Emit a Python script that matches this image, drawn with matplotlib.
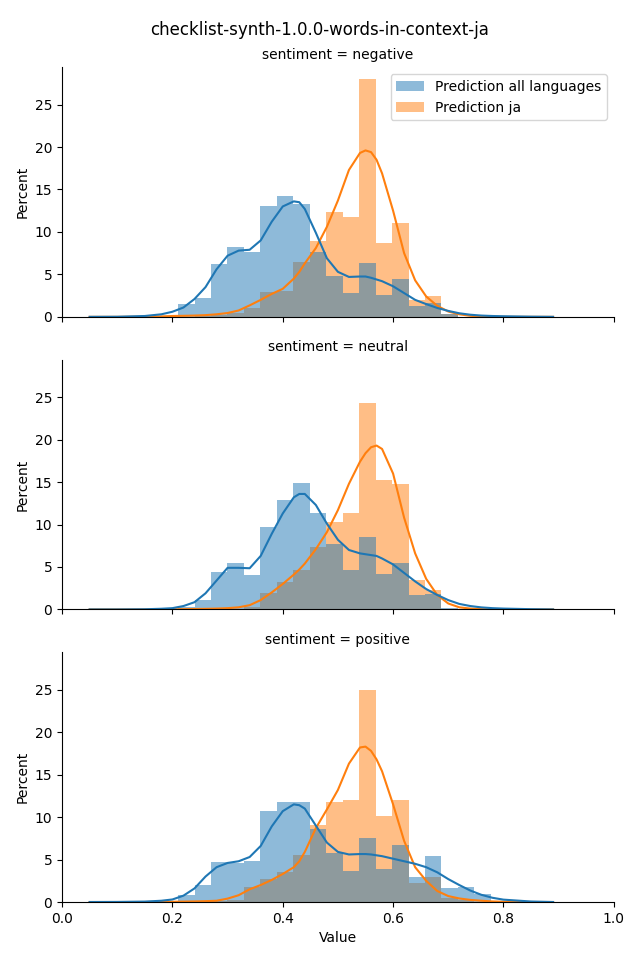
import numpy as np
import matplotlib
matplotlib.use("Agg")
import matplotlib.pyplot as plt
import matplotlib.patches as mpatches

title = "checklist-synth-1.0.0-words-in-context-ja"
panels = ["negative", "neutral", "positive"]
series_labels = ["Prediction all languages", "Prediction ja"]

# histogram bins (common to all panels)
bin_start = 0.2103
bin_width = 0.02984
n_bins = 19

# bar heights in percent, one list per panel and series
hist_all = {
    "negative": [1.5, 2.2, 6.2, 8.2, 7.6, 13.0, 14.2, 13.25, 7.6, 4.8, 2.8, 6.4, 2.55, 4.4, 1.33, 1.6, 0.3, 0.0, 0.0],
    "neutral": [0.3, 1.15, 4.35, 5.5, 4.1, 9.76, 12.9, 14.9, 11.3, 7.76, 4.6, 8.5, 4.2, 5.5, 1.7, 1.76, 0.2, 0.0, 0.0],
    "positive": [0.82, 2.0, 4.7, 4.55, 4.8, 10.7, 11.76, 11.76, 8.6, 5.8, 3.65, 7.5, 3.9, 6.7, 2.94, 5.4, 1.7, 1.8, 0.94],
}
hist_ja = {
    "negative": [0.0, 0.1, 0.2, 0.4, 1.0, 2.94, 3.06, 6.45, 8.9, 12.4, 11.7, 28.0, 8.7, 11.1, 2.0, 2.45, 0.3, 0.0, 0.0],
    "neutral": [0.0, 0.0, 0.1, 0.1, 0.25, 1.9, 3.2, 4.7, 7.3, 10.35, 11.3, 24.35, 15.2, 14.8, 3.45, 2.27, 0.1, 0.0, 0.0],
    "positive": [0.0, 0.0, 0.1, 0.25, 1.76, 2.75, 3.5, 5.5, 9.06, 11.76, 12.0, 25.0, 10.1, 12.0, 2.27, 2.94, 0.5, 0.2, 0.0],
}

# density curves (scaled to percent)
kde_x = [0.05, 0.10, 0.15, 0.18, 0.20, 0.22, 0.24, 0.26, 0.28, 0.30, 0.32, 0.34, 0.36, 0.38,
         0.40, 0.42, 0.43, 0.44, 0.46, 0.48, 0.50, 0.52, 0.54, 0.55, 0.56, 0.57, 0.58, 0.60,
         0.62, 0.64, 0.66, 0.68, 0.70, 0.72, 0.74, 0.76, 0.78, 0.80, 0.85, 0.89]
kde_all = {
    "negative": [0.0, 0.01, 0.1, 0.3, 0.6, 1.1, 2.1, 3.5, 5.6, 7.2, 7.8, 7.9, 9.0, 11.2,
                 13.0, 13.6, 13.5, 12.7, 9.9, 6.9, 5.3, 4.7, 4.75, 4.75, 4.6, 4.4, 4.2, 3.6,
                 2.8, 2.0, 1.5, 1.05, 0.7, 0.42, 0.25, 0.15, 0.1, 0.07, 0.02, 0.0],
    "neutral": [0.0, 0.0, 0.02, 0.08, 0.15, 0.4, 0.85, 1.9, 3.4, 4.9, 4.9, 4.85, 6.3, 8.9,
                11.3, 13.2, 13.6, 13.6, 12.3, 10.1, 8.2, 7.0, 6.6, 6.5, 6.4, 6.3, 6.0, 5.3,
                4.3, 3.3, 2.4, 1.7, 1.1, 0.65, 0.4, 0.24, 0.15, 0.1, 0.03, 0.0],
    "positive": [0.0, 0.01, 0.05, 0.15, 0.3, 0.75, 1.6, 3.0, 4.1, 4.6, 4.8, 5.3, 6.6, 8.9,
                 10.7, 11.5, 11.4, 11.0, 9.0, 7.0, 5.9, 5.6, 5.65, 5.65, 5.6, 5.5, 5.4, 5.1,
                 4.8, 4.5, 4.1, 3.5, 2.7, 2.0, 1.35, 0.85, 0.5, 0.28, 0.06, 0.0],
}
kde_ja = {
    "negative": [0.0, 0.0, 0.02, 0.05, 0.1, 0.12, 0.15, 0.2, 0.3, 0.45, 0.75, 1.35, 2.0, 2.7,
                 3.3, 4.5, 5.3, 6.3, 8.1, 10.6, 13.7, 17.3, 19.3, 19.6, 19.4, 18.5, 16.9, 12.5,
                 7.5, 4.3, 2.4, 1.3, 0.63, 0.3, 0.12, 0.05, 0.02, 0.0, 0.0, 0.0],
    "neutral": [0.0, 0.0, 0.0, 0.01, 0.02, 0.03, 0.05, 0.07, 0.1, 0.15, 0.25, 0.5, 1.1, 2.0,
                3.0, 4.1, 4.7, 5.4, 7.1, 9.1, 11.7, 14.8, 17.4, 18.4, 19.1, 19.3, 18.9, 16.0,
                10.8, 6.6, 3.6, 1.7, 0.7, 0.25, 0.1, 0.04, 0.01, 0.0, 0.0, 0.0],
    "positive": [0.0, 0.0, 0.0, 0.02, 0.03, 0.05, 0.07, 0.1, 0.15, 0.4, 0.8, 1.5, 2.0, 2.6,
                 3.3, 4.1, 4.8, 5.9, 8.7, 10.9, 13.2, 16.3, 18.2, 18.3, 17.8, 16.8, 15.4, 11.5,
                 7.2, 4.1, 2.5, 1.3, 0.7, 0.42, 0.25, 0.15, 0.07, 0.03, 0.0, 0.0],
}

c_all = "#1f77b4"
c_ja = "#ff7f0e"

bin_left = bin_start + bin_width * np.arange(n_bins)

fig, axes = plt.subplots(3, 1, figsize=(6.4, 9.6), sharex=True, sharey=True)
fig.subplots_adjust(left=0.097, right=0.959, bottom=0.0604, top=0.930, hspace=0.172)

for ax, name in zip(axes, panels):
    # ja first so the all-languages layer sits on top
    ax.bar(bin_left, hist_ja[name], width=bin_width, align="edge",
           color=c_ja, alpha=0.5, linewidth=0)
    ax.bar(bin_left, hist_all[name], width=bin_width, align="edge",
           color=c_all, alpha=0.5, linewidth=0)
    ax.plot(kde_x, kde_ja[name], color=c_ja, linewidth=1.5)
    ax.plot(kde_x, kde_all[name], color=c_all, linewidth=1.5)

    ax.set_title(f"sentiment = {name}", fontsize=10)
    ax.set_ylabel("Percent")
    ax.spines["top"].set_visible(False)
    ax.spines["right"].set_visible(False)
    ax.set_xlim(0, 1)

axes[-1].set_xlabel("Value")

handles = [mpatches.Patch(color=c_all, alpha=0.5, linewidth=0),
           mpatches.Patch(color=c_ja, alpha=0.5, linewidth=0)]
axes[0].legend(handles, series_labels, loc="upper right")

fig.suptitle(title, fontsize=12, y=0.978)

plt.savefig("out.png", dpi=100)
